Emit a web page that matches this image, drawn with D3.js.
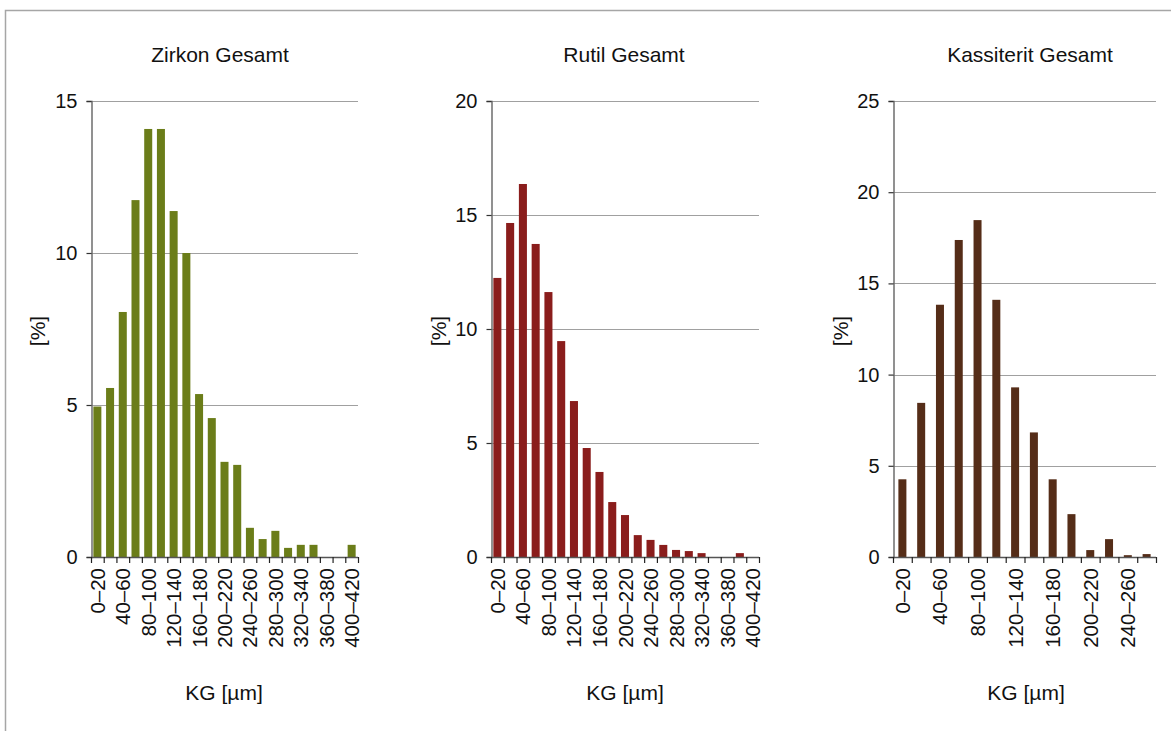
<!DOCTYPE html>
<html>
<head>
<meta charset="utf-8">
<script src="https://cdn.jsdelivr.net/npm/d3@7"></script>
<style>
  html, body { margin: 0; padding: 0; background: #fff; }
  svg { display: block; font-family: "Liberation Sans", Arial, sans-serif; }
</style>
</head>
<body>
<svg id="chart" width="1171" height="731"></svg>
<script>
// ---- data ----
const zirkonCategories = ["0–20","20–40","40–60","60–80","80–100","100–120","120–140","140–160","160–180","180–200","200–220","220–240","240–260","260–280","280–300","300–320","320–340","340–360","360–380","380–400","400–420"];
const zirkonValues = [4.95, 5.56, 8.06, 11.74, 14.08, 14.08, 11.38, 10.0, 5.36, 4.57, 3.13, 3.03, 0.96, 0.59, 0.86, 0.3, 0.4, 0.4, 0, 0, 0.4];
const zirkonTicks = [0, 5, 10, 15];

const rutilCategories = ["0–20","20–40","40–60","60–80","80–100","100–120","120–140","140–160","160–180","180–200","200–220","220–240","240–260","260–280","280–300","300–320","320–340","340–360","360–380","380–400","400–420"];
const rutilValues = [12.24, 14.65, 16.36, 13.73, 11.62, 9.47, 6.84, 4.78, 3.73, 2.41, 1.84, 0.96, 0.75, 0.53, 0.31, 0.26, 0.17, 0, 0, 0.17, 0];
const rutilTicks = [0, 5, 10, 15, 20];

const kassCategories = ["0–20","20–40","40–60","60–80","80–100","100–120","120–140","140–160","160–180","180–200","200–220","220–240","240–260","260–280"];
const kassValues = [4.26, 8.45, 13.83, 17.38, 18.47, 14.1, 9.3, 6.83, 4.26, 2.35, 0.38, 0.98, 0.1, 0.16];
const kassTicks = [0, 5, 10, 15, 20, 25];

const titles = ["Zirkon Gesamt", "Rutil Gesamt", "Kassiterit Gesamt"];
const xTitle = "KG [µm]";
const yTitle = "[%]";

// ---- layout ----
const svg = d3.select("#chart");
const plotTop = 101, plotBottom = 557;
const tickFont = 20.5, titleFont = 21;

// outer border (top + left)
svg.append("path")
  .attr("d", "M5.5,731 L5.5,10.5 L1171,10.5")
  .attr("fill", "none").attr("stroke", "#a6a6a6").attr("stroke-width", 1.5);

const panels = [
  { title: titles[0], cats: zirkonCategories, vals: zirkonValues, ticks: zirkonTicks, max: 15, x0: 91, x1: 358, color: "#6b7d19", pad: 0.37, titleX: 220, xTitleX: 224, yTitleX: 45 },
  { title: titles[1], cats: rutilCategories, vals: rutilValues, ticks: rutilTicks, max: 20, x0: 491, x1: 759, color: "#8a1d1c", pad: 0.37, titleX: 624, xTitleX: 625, yTitleX: 446 },
  { title: titles[2], cats: kassCategories, vals: kassValues, ticks: kassTicks, max: 25, x0: 893, x1: 1156, color: "#552d18", pad: 0.574, titleX: 1030, xTitleX: 1026, yTitleX: 848 }
];

panels.forEach(p => {
  const g = svg.append("g");
  const x = d3.scaleBand().domain(p.cats).range([p.x0, p.x1]).paddingInner(p.pad).paddingOuter(p.pad / 2);
  const y = d3.scaleLinear().domain([0, p.max]).range([plotBottom, plotTop]);

  // gridlines
  g.append("g").selectAll("line").data(p.ticks.filter(t => t > 0)).join("line")
    .attr("x1", p.x0).attr("x2", p.x1)
    .attr("y1", d => Math.round(y(d)) + 0.5).attr("y2", d => Math.round(y(d)) + 0.5)
    .attr("stroke", "#a0a0a0").attr("stroke-width", 1.2);

  // bars
  g.append("g").selectAll("rect").data(p.vals).join("rect")
    .attr("x", (d, i) => x(p.cats[i]))
    .attr("width", x.bandwidth())
    .attr("y", d => y(d))
    .attr("height", d => plotBottom - y(d))
    .attr("fill", p.color);

  // y axis
  const yAxis = d3.axisLeft(y).tickValues(p.ticks).tickSize(5).tickPadding(9).tickFormat(d3.format("d"));
  const ya = g.append("g").attr("transform", `translate(${p.x0 + 0.5},0)`).call(yAxis);
  ya.select(".domain").attr("stroke", "#6e6e6e").attr("stroke-width", 1.5);
  ya.selectAll(".tick line").attr("stroke", "#333").attr("stroke-width", 1.2);
  ya.selectAll("text").attr("font-size", 20).attr("fill", "#111")
    .attr("font-family", "'Liberation Sans', Arial, sans-serif");

  // x axis: ticks at band boundaries
  const step = (p.x1 - p.x0) / p.cats.length;
  const boundaries = d3.range(p.cats.length + 1).map(i => p.x0 + i * step);
  const xa = g.append("g");
  xa.append("line").attr("x1", p.x0).attr("x2", p.x1)
    .attr("y1", plotBottom + 0.5).attr("y2", plotBottom + 0.5)
    .attr("stroke", "#555").attr("stroke-width", 1.5);
  xa.selectAll("line.tk").data(boundaries).join("line").attr("class", "tk")
    .attr("x1", d => d + 0.5).attr("x2", d => d + 0.5)
    .attr("y1", plotBottom).attr("y2", plotBottom + 6)
    .attr("stroke", "#222").attr("stroke-width", 1.2);
  xa.selectAll("text").data(p.cats.filter((c, i) => i % 2 === 0)).join("text")
    .attr("transform", d => `translate(${x(d) + x.bandwidth() / 2 + 7.5},${plotBottom + 11}) rotate(-90)`)
    .attr("text-anchor", "end")
    .attr("font-size", tickFont).attr("fill", "#111")
    .text(d => d);

  // titles
  g.append("text").attr("x", p.titleX).attr("y", 62).attr("text-anchor", "middle")
    .attr("font-size", titleFont).attr("fill", "#111").text(p.title);
  g.append("text").attr("x", p.xTitleX).attr("y", 700).attr("text-anchor", "middle")
    .attr("font-size", titleFont).attr("fill", "#111").text(xTitle);
  g.append("text").attr("transform", `translate(${p.yTitleX},331) rotate(-90)`).attr("text-anchor", "middle")
    .attr("font-size", titleFont).attr("fill", "#111").text(yTitle);
});
</script>
</body>
</html>
